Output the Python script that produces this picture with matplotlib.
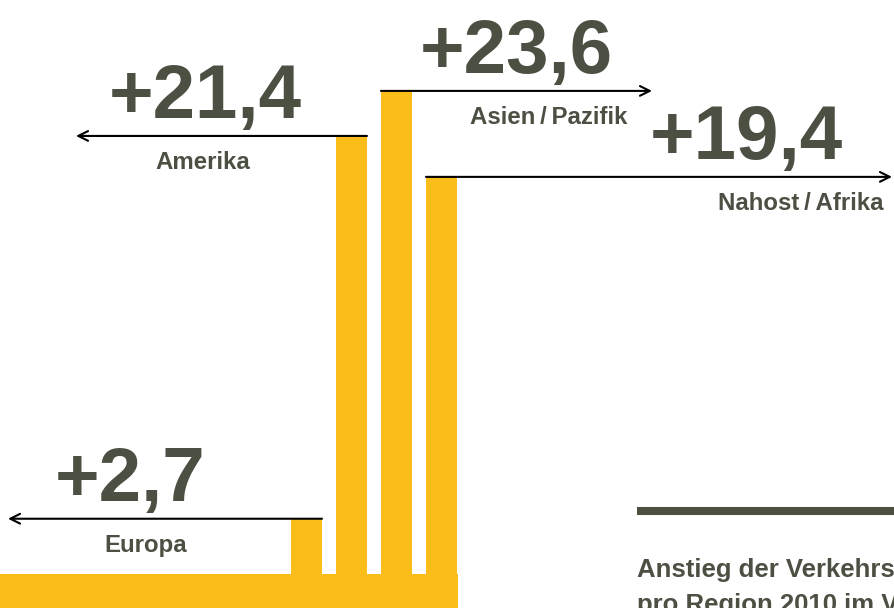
import numpy as np
import matplotlib
matplotlib.use('Agg')
import matplotlib.pyplot as plt

# ── Data ──────────────────────────────────────
regions = ['Europa', 'Amerika', 'Asien\u2009/\u2009Pazifik', 'Nahost\u2009/\u2009Afrika']
growth = [2.7, 21.4, 23.6, 19.4]
value_labels = ['+2,7', '+21,4', '+23,6', '+19,4']
caption = ['Anstieg der Verkehrsleistung', 'pro Region 2010 im Vergleich zum Vorjahr']

YELLOW = '#FABD1A'
DARK = '#4B5043'

plt.rcParams['font.family'] = ['Liberation Sans', 'DejaVu Sans']

# ── Layout (pixel based x axis, value based y axis) ──
W, H = 894, 608
base_px = 34            # height of the bottom band
px_per_unit = 20.47
bar_x = 306.5 + 45 * np.arange(len(growth))
bar_w = 31

fig = plt.figure(figsize=(W / 100, H / 100), dpi=100)
ax = fig.add_axes([0, 0, 1, 1])
ax.set_xlim(0, W)
ax.set_ylim(-base_px / px_per_unit, (H - base_px) / px_per_unit)
ax.axis('off')

# bottom band + bars
ax.axhspan(-base_px / px_per_unit, 0, xmin=0, xmax=458 / W, color=YELLOW, lw=0)
ax.bar(bar_x, growth, width=bar_w, bottom=0, color=YELLOW, lw=0)

# arrows: start at a bar edge, end at the tip
starts = [bar_x[0] + bar_w / 2, bar_x[1] + bar_w / 2, bar_x[2] - bar_w / 2, bar_x[3] - bar_w / 2]
tips = [8, 76, 652, 892]
num_x = [130, 205, 516, 746]
lab_x = [146, 203, 549, 801]

for i, v in enumerate(growth):
    ax.annotate('', xy=(tips[i], v), xytext=(starts[i], v),
                arrowprops=dict(arrowstyle='->,head_length=0.7,head_width=0.35',
                                color='black', lw=1.5, shrinkA=0, shrinkB=0))
    ax.annotate(value_labels[i], xy=(num_x[i], v), xytext=(0, 18 * 0.72),
                textcoords='offset points', ha='center', va='baseline',
                fontsize=55, fontweight='bold', color=DARK)
    ax.annotate(regions[i], xy=(lab_x[i], v), xytext=(0, -33 * 0.72),
                textcoords='offset points', ha='center', va='baseline',
                fontsize=17.3, fontweight='bold', color=DARK)

# caption block bottom right
fig.add_artist(plt.Line2D([637 / W, 1], [1 - 511 / H, 1 - 511 / H],
                          transform=fig.transFigure, color=DARK, lw=5.8,
                          solid_capstyle='butt'))
for j, line in enumerate(caption):
    fig.text(637 / W, 1 - (577 + 35 * j) / H, line,
             ha='left', va='baseline', fontsize=18.5, fontweight='bold', color=DARK)

fig.savefig('out.png', dpi=100)
